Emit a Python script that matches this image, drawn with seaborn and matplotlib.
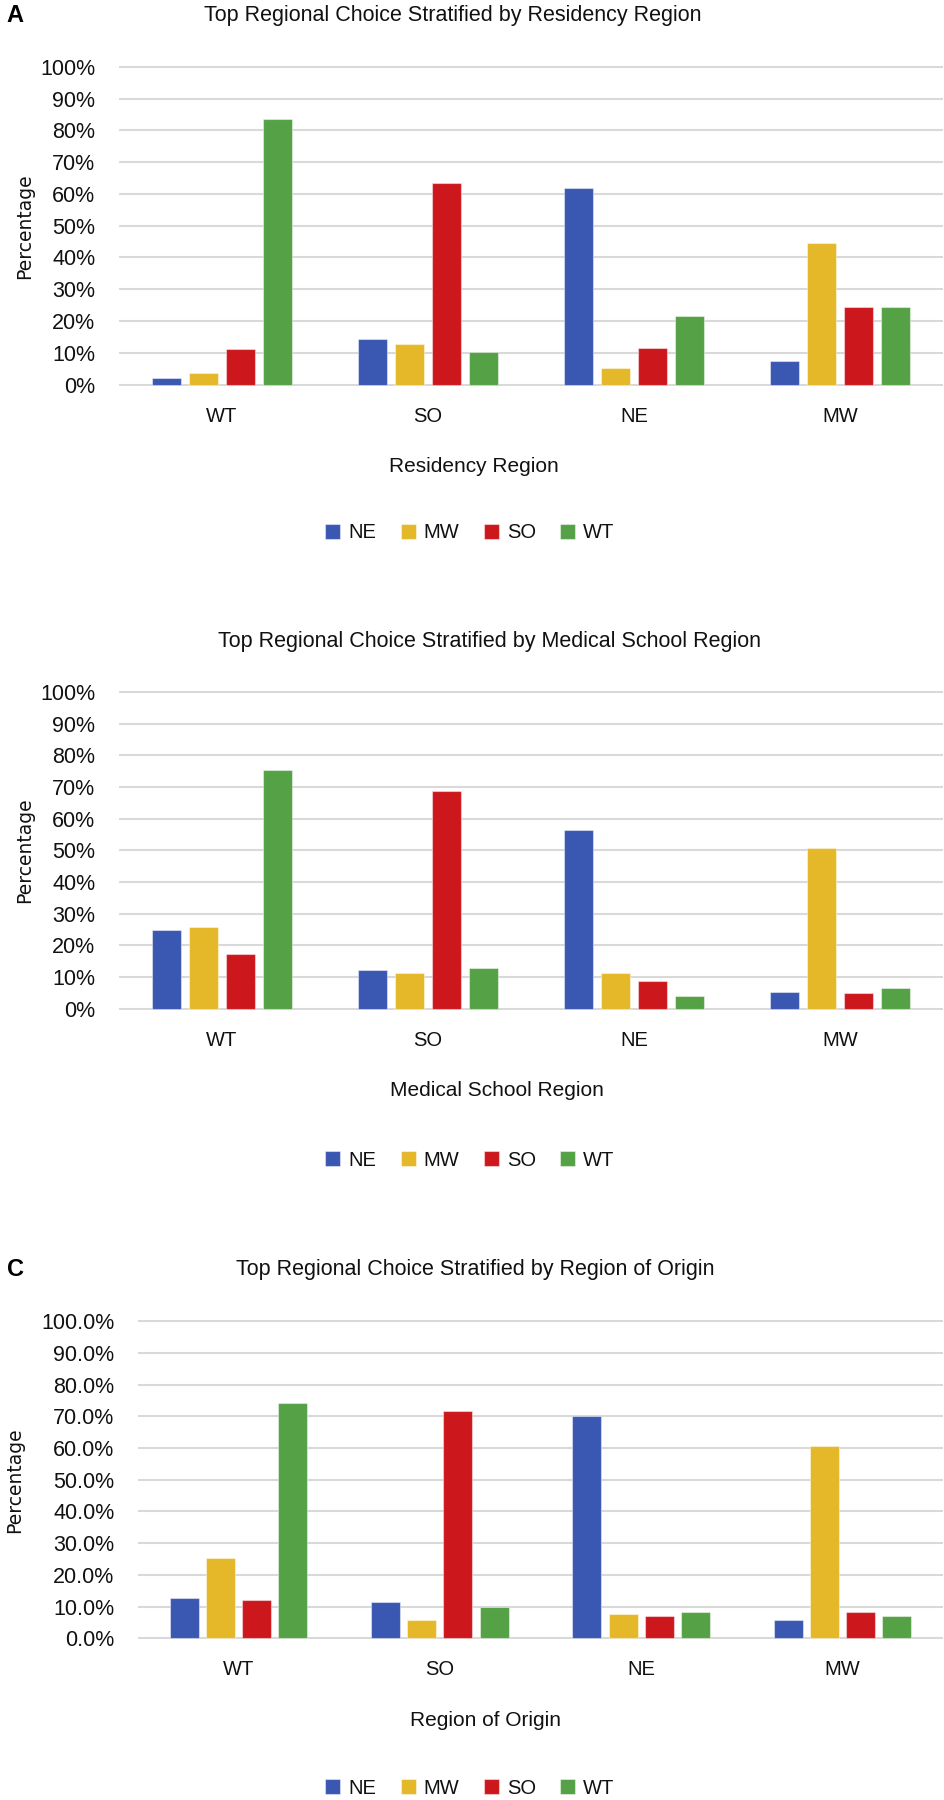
import numpy as np
import pandas as pd
import matplotlib
matplotlib.use("Agg")
import matplotlib.pyplot as plt
import seaborn as sns
from matplotlib.patches import Patch

# ---------------- data ----------------
categories = ["WT", "SO", "NE", "MW"]
choices = ["NE", "MW", "SO", "WT"]

residency_NE = [2.0, 14.2, 62.0, 7.3]
residency_MW = [3.7, 12.7, 5.1, 44.4]
residency_SO = [11.1, 63.3, 11.5, 24.5]
residency_WT = [83.6, 10.2, 21.6, 24.5]

medschool_NE = [25.0, 12.4, 56.3, 5.4]
medschool_MW = [25.9, 11.3, 11.3, 50.6]
medschool_SO = [17.2, 68.7, 8.7, 4.9]
medschool_WT = [75.4, 13.0, 4.2, 6.6]

origin_NE = [12.7, 11.3, 70.0, 5.6]
origin_MW = [25.4, 5.7, 7.6, 60.7]
origin_SO = [12.1, 71.8, 7.1, 8.3]
origin_WT = [74.3, 9.7, 8.2, 6.9]

yticks = list(range(0, 101, 10))
ytick_labels_int = [f"{v}%" for v in yticks]
ytick_labels_dec = [f"{v:.1f}%" for v in yticks]

titles = ["Top Regional Choice Stratified by Residency Region",
          "Top Regional Choice Stratified by Medical School Region",
          "Top Regional Choice Stratified by Region of Origin"]
xlabels = ["Residency Region", "Medical School Region", "Region of Origin"]
panel_letters = ["A", "", "C"]

colors = ["#3A57B1", "#E5B82A", "#CC171D", "#55A145"]

# ---------------- style ----------------
sns.set_theme(style="white")
plt.rcParams["font.family"] = ["Liberation Sans", "DejaVu Sans"]

W, H = 944, 1800
fig = plt.figure(figsize=(W / 100, H / 100), dpi=100)
fig.patch.set_facecolor("white")


def fx(x):
    return x / W


def fy(y):
    return 1 - y / H


def make_df(ne, mw, so, wt):
    rows = []
    for series, name in zip([ne, mw, so, wt], choices):
        for cat, v in zip(categories, series):
            rows.append({"region": cat, "choice": name, "pct": v})
    return pd.DataFrame(rows)


dfs = [make_df(residency_NE, residency_MW, residency_SO, residency_WT),
       make_df(medschool_NE, medschool_MW, medschool_SO, medschool_WT),
       make_df(origin_NE, origin_MW, origin_SO, origin_WT)]

# layout (pixel) : left, top(100%), bottom(0%)
layouts = [
    dict(left=119, top=65.7, bottom=385.7, title_xy=(453, 15), xlab_x=474,
         ylab_x=25, legend_y=533, ytl=ytick_labels_int, letter_y=15),
    dict(left=119, top=690.7, bottom=1010, title_xy=(490, 641.7), xlab_x=497,
         ylab_x=25, legend_y=1160, ytl=ytick_labels_int, letter_y=641),
    dict(left=138, top=1320.3, bottom=1639.3, title_xy=(475, 1270), xlab_x=486,
         ylab_x=15, legend_y=1788, ytl=ytick_labels_dec, letter_y=1270),
]
right = 943

for i, (df, lay) in enumerate(zip(dfs, layouts)):
    ax = fig.add_axes([fx(lay["left"]), fy(lay["bottom"]),
                       (right - lay["left"]) / W, (lay["bottom"] - lay["top"]) / H])
    sns.barplot(data=df, x="region", y="pct", hue="choice", order=categories,
                hue_order=choices, palette=colors, saturation=1, width=0.72, gap=0.2,
                errorbar=None, legend=False, ax=ax,
                edgecolor=(1, 1, 1, 0.45), linewidth=0.8)
    ax.set_xlim(-0.5, 3.5)
    ax.set_ylim(-0.35, 100.35)
    ax.set_yticks(yticks)
    ax.set_yticklabels(lay["ytl"])
    ax.set_xlabel("")
    ax.set_ylabel("")
    ax.yaxis.grid(True, color="#D9D9D9", linewidth=1.5)
    ax.xaxis.grid(False)
    ax.set_axisbelow(True)
    for s in ax.spines.values():
        s.set_visible(False)
    ax.tick_params(axis="y", length=0, pad=17, labelsize=15.5, labelcolor="#111111")
    ax.tick_params(axis="x", length=0, pad=15, labelsize=14.5, labelcolor="#111111")
    ax.set_facecolor("white")

    # title
    fig.text(fx(lay["title_xy"][0]), fy(lay["title_xy"][1]), titles[i],
             ha="center", va="center", fontsize=15.5, color="#111111")
    # x label
    fig.text(fx(lay["xlab_x"]), fy(lay["bottom"] + 81), xlabels[i],
             ha="center", va="center", fontsize=15, color="#111111")
    # y label
    fig.text(fx(lay["ylab_x"]), fy((lay["top"] + lay["bottom"]) / 2), "Percentage",
             ha="center", va="center", rotation=90, fontsize=13.5,
             family="DejaVu Sans", color="#111111")
    # panel letter
    if panel_letters[i]:
        fig.text(fx(15), fy(lay["letter_y"]), panel_letters[i], ha="center",
                 va="center", fontsize=17, fontweight="bold", color="black")
    # legend
    handles = [Patch(facecolor=c, edgecolor=(1, 1, 1, 0.45), linewidth=0.8) for c in colors]
    fig.legend(handles, choices, loc="center",
               bbox_to_anchor=(fx(470), fy(lay["legend_y"])), ncol=4,
               frameon=False, handlelength=0.75, handleheight=0.75,
               handletextpad=0.4, columnspacing=1.2, fontsize=14.5,
               labelcolor="#111111")

fig.savefig("out.png", dpi=100, facecolor="white")
